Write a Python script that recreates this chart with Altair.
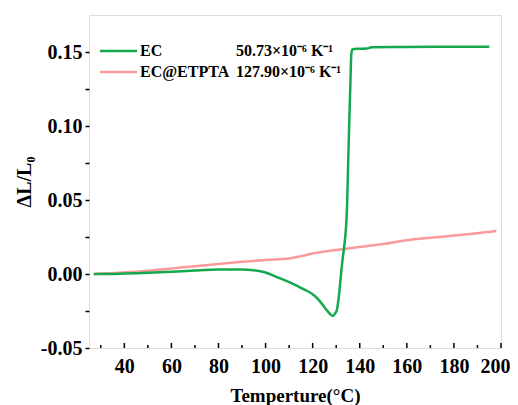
import altair as alt
import pandas as pd

# EC series (temperature in °C, ΔL/L0)
ec_t = [27, 35, 40, 50, 60, 70, 80, 90, 95, 100, 105, 110, 115, 117.5, 120, 122, 124, 126, 127.5,
        128.6, 129.5, 130.3, 131.3, 132.1, 132.7, 133.4, 134.1, 134.6, 135.0, 135.5, 136.0,
        136.4, 136.8, 137.5, 140, 143, 145, 160, 180, 195]
ec_v = [0.0, 0.0, 0.0003, 0.0008, 0.0015, 0.0024, 0.003, 0.003, 0.0025, 0.001, -0.0022,
        -0.0055, -0.0093, -0.0113, -0.0137, -0.0165, -0.0203, -0.0245, -0.0272, -0.0283,
        -0.0268, -0.0241, -0.0128, 0.0007, 0.0097, 0.0186, 0.03, 0.045, 0.07, 0.10, 0.127,
        0.148, 0.1515, 0.152, 0.1522, 0.1523, 0.1532, 0.1534, 0.1535, 0.1536]

# EC@ETPTA series
et_t = [27, 40, 50, 60, 70, 80, 90, 100, 110, 115, 120, 130, 140, 150, 160, 170, 180, 190, 198]
et_v = [0.0, 0.001, 0.0022, 0.0037, 0.0053, 0.0068, 0.0082, 0.0095, 0.0105, 0.012, 0.0138,
        0.0162, 0.0183, 0.0202, 0.0228, 0.0245, 0.026, 0.0275, 0.029]

series_names = ["EC", "EC@ETPTA"]
series_colors = ["#14a84f", "#fa9a9a"]
coefficients = ["50.73×10⁻⁶ K⁻¹", "127.90×10⁻⁶ K⁻¹"]

x_major = [40, 60, 80, 100, 120, 140, 160, 180, 200]
x_minor = [30, 50, 70, 90, 110, 130, 150, 170, 190]
y_ticks = [-0.05, -0.025, 0.0, 0.025, 0.05, 0.075, 0.1, 0.125, 0.15]

df_ec = pd.DataFrame({"T": ec_t, "v": ec_v, "series": "EC"})
df_et = pd.DataFrame({"T": et_t, "v": et_v, "series": "EC@ETPTA"})
df_leg = pd.DataFrame({"series": series_names, "coef": coefficients, "row": [0, 1]})
df_xmaj = pd.DataFrame({"t": x_major})
df_xmin = pd.DataFrame({"t": x_minor})

FONT = "Liberation Serif"
W, H = 412, 333

color = alt.Color("series:N", scale=alt.Scale(domain=series_names, range=series_colors), legend=None)

xscale = alt.Scale(domain=[25, 200], nice=False, zero=False)
yscale = alt.Scale(domain=[-0.05, 0.175], nice=False, zero=False)

x_enc = alt.X("T:Q", scale=xscale, axis=alt.Axis(
    values=x_major, ticks=False, domain=False, grid=False, format="d",
    labelFont=FONT, labelFontWeight="bold", labelFontSize=20, labelColor="black",
    labelPadding=8, labelFlush=True, labelFlushOffset=9,
    title="Temperture(°C)", titleFont=FONT, titleFontWeight="bold", titleFontSize=19,
    titleColor="black", titlePadding=10))
y_enc = alt.Y("v:Q", scale=yscale, axis=alt.Axis(
    values=y_ticks,
    labelExpr="round(datum.value*1000) % 50 == 0 ? (datum.value < 0 ? '-' : '') + format(abs(datum.value), '.2f') : ''",
    tickSize=4, tickWidth=1.5, tickColor="black", domain=False, grid=False,
    labelFont=FONT, labelFontWeight="bold", labelFontSize=20, labelColor="black",
    labelPadding=3, labelFlush=False,
    title="ΔL/L₀", titleFont=FONT, titleFontWeight="bold", titleFontSize=20,
    titleColor="black", titlePadding=6))

pink = alt.Chart(df_et).mark_line(strokeWidth=2.5, interpolate="monotone").encode(
    x=x_enc, y=y_enc, color=color)
green = alt.Chart(df_ec).mark_line(strokeWidth=2.5, interpolate="monotone").encode(
    x=alt.X("T:Q", scale=xscale), y=alt.Y("v:Q", scale=yscale), color=color)

tick_major = alt.Chart(df_xmaj).mark_rule(color="black", strokeWidth=1.5).encode(
    x=alt.X("t:Q", scale=xscale), y=alt.value(H - 5), y2=alt.value(H))
tick_minor = alt.Chart(df_xmin).mark_rule(color="black", strokeWidth=1.5).encode(
    x=alt.X("t:Q", scale=xscale), y=alt.value(H - 3), y2=alt.value(H))

main = alt.layer(pink, green, tick_major, tick_minor)

leg_y = alt.Y("row:Q", scale=alt.Scale(domain=[0, 1], range=[36, 57]), axis=None)
leg_line = alt.Chart(df_leg).mark_rule(strokeWidth=2.5).encode(
    x=alt.value(11), x2=alt.value(48), y=leg_y, color=color)
leg_name = alt.Chart(df_leg).mark_text(
    align="left", baseline="middle", font=FONT, fontWeight="bold", fontSize=16, color="black"
).encode(x=alt.value(51), y=leg_y, text="series:N")
leg_coef = alt.Chart(df_leg).mark_text(
    align="left", baseline="middle", font=FONT, fontWeight="bold", fontSize=16, color="black"
).encode(x=alt.value(147), y=leg_y, text="coef:N")

legend = alt.layer(leg_line, leg_name, leg_coef)

chart = alt.layer(main, legend).resolve_scale(y="independent").properties(
    width=W, height=H,
    padding={"left": 81, "top": 7, "right": 9, "bottom": 57},
    autosize=alt.AutoSizeParams(type="none"),
).configure_view(stroke="black", strokeWidth=1.5).configure(background="white")

chart.save("out.html", embed_options={"renderer": "svg", "actions": False})
